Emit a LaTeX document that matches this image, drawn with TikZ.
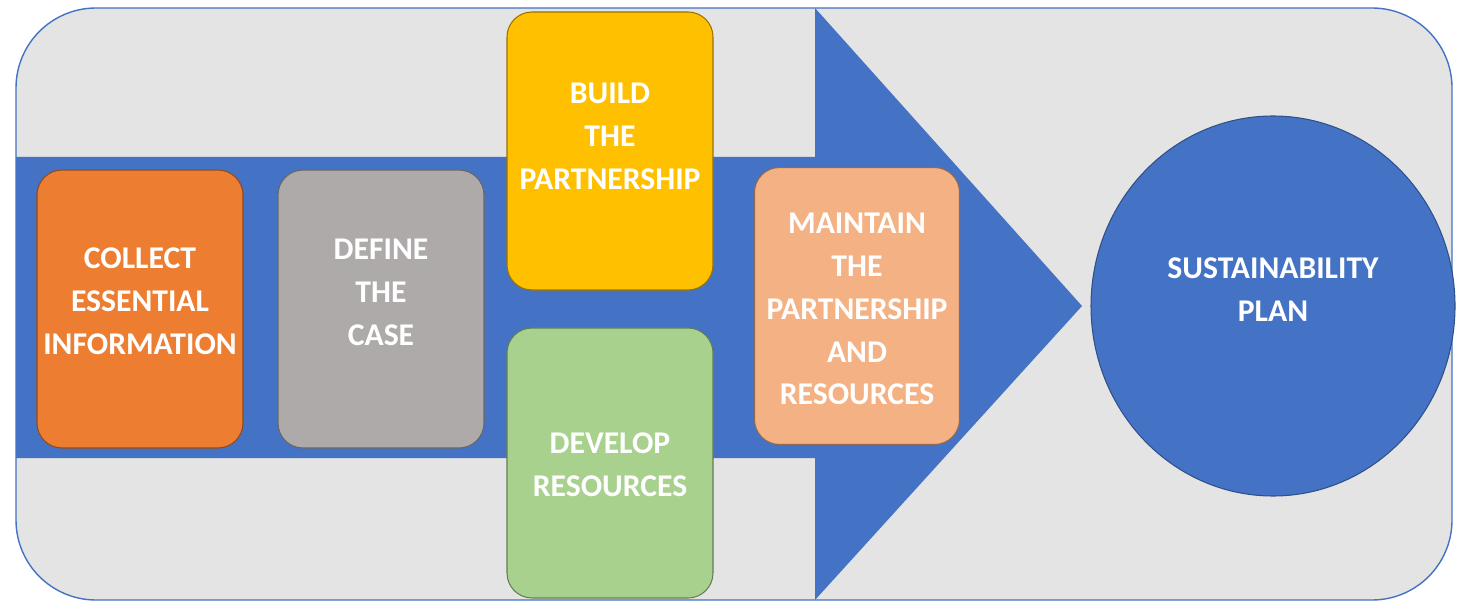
\documentclass[tikz,border=0pt]{standalone}
\usepackage{fontspec}
\setmainfont{Carlito}
\usetikzlibrary{shapes.geometric}

\definecolor{framegray}{HTML}{E4E4E4}
\definecolor{flowblue}{HTML}{4472C4}
\definecolor{collectorange}{HTML}{ED7D31}
\definecolor{definegray}{HTML}{AEAAAA}
\definecolor{buildgold}{HTML}{FFC000}
\definecolor{developgreen}{HTML}{A9D18E}
\definecolor{maintainpeach}{HTML}{F4B183}

\tikzset{
  stagebox/.style={rectangle, rounded corners=5mm, line width=0.6pt,
    minimum width=41.2mm, minimum height=55.6mm},
  goal/.style={ellipse, draw=flowblue!70!black, fill=flowblue, line width=0.6pt,
    minimum width=72.8mm, minimum height=76mm},
  caption/.style={align=center, text=white, font=\fontsize{18}{24.4}\selectfont\bfseries}
}

\begin{document}
\begin{tikzpicture}[x=0.2mm,y=-0.2mm]
  \useasboundingbox (0,0) rectangle (1457,603);
  % background frame and big arrow
  \draw[flowblue, fill=framegray, line width=0.8pt, rounded corners=16mm] (16,8) rectangle (1452,600);
  \fill[flowblue] (16,157) -- (815,157) -- (815,8) -- (1082,306) -- (815,600) -- (815,458) -- (16,458) -- cycle;
  % stages
  \node[stagebox, fill=collectorange, draw=collectorange!60!black] (collect) at (140,309) {};
  \node[stagebox, fill=definegray, draw=definegray!60!black] (define) at (381,309) {};
  \node[stagebox, fill=buildgold, draw=buildgold!60!black] (build) at (610,151) {};
  \node[stagebox, fill=developgreen, draw=developgreen!60!black, minimum height=54mm] (develop) at (610,463) {};
  \node[stagebox, fill=maintainpeach, draw=maintainpeach!60!black, minimum width=41mm, minimum height=55.4mm] (maintain) at (857,306) {};
  % result
  \node[goal] (plan) at (1273,306) {};
  % texts
  \node[caption] (collecttext) at ([yshift=1.6mm]collect.center) {COLLECT\\ESSENTIAL\\INFORMATION};
  \node[caption] (definetext) at ([yshift=3.4mm]define.center) {DEFINE\\THE\\CASE};
  \node[caption] (buildtext) at ([yshift=3mm]build.center) {BUILD\\THE\\PARTNERSHIP};
  \node[caption] (developtext) at ([yshift=-0.4mm]develop.center) {DEVELOP\\RESOURCES};
  \node[caption] (maintaintext) at ([yshift=-0.6mm]maintain.center) {MAINTAIN\\THE\\PARTNERSHIP\\AND\\RESOURCES};
  \node[caption] (plantext) at ([yshift=3.2mm]plan.center) {SUSTAINABILITY\\PLAN};
\end{tikzpicture}
\end{document}
